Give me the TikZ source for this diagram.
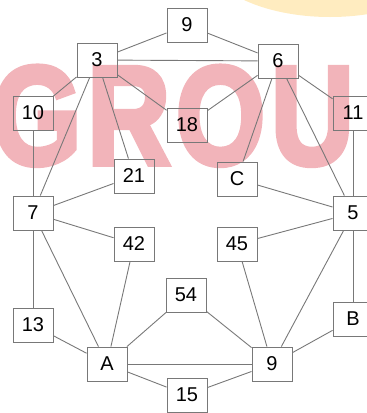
\documentclass[tikz,border=0pt]{standalone}
\usepackage{fontspec}
\setmainfont{Liberation Sans}
\newfontfamily\wmfont[FakeBold=4]{Liberation Sans}
\usepackage{tikz}
\usetikzlibrary{positioning}

\definecolor{edgegray}{RGB}{120,120,120}
\definecolor{wmark}{RGB}{242,180,186}
\definecolor{blob}{RGB}{255,236,192}

\begin{document}
\begin{tikzpicture}[
  x=1pt, y=-1pt,
  box/.style={draw=edgegray, line width=0.9pt, minimum width=40pt, minimum height=34pt, inner sep=0pt, font=\fontsize{20}{24}\selectfont},
  edge/.style={draw=edgegray, line width=0.9pt}
]
\clip (0,0) rectangle (367,413);

% background marks of the scan
\fill[blob] (330,-45) ellipse (125 and 62);
\node[anchor=base west, inner sep=0pt, text=wmark, font=\wmfont\bfseries\fontsize{140}{140}\selectfont] (wm) at (-8,164)
  {\scalebox{0.82}[1]{\addfontfeature{LetterSpace=5}GROU}};

% boxes
\node[box] (n9top) at (187,25) {9};
\node[box] (n3) at (97,60) {3};
\node[box] (n6) at (278,61) {6};
\node[box] (n10) at (33,113) {10};
\node[box] (n18) at (187,125) {18};
\node[box] (n11) at (353,113) {11};
\node[box] (n21) at (134,176) {21};
\node[box] (nC) at (237,179) {C};
\node[box] (n7) at (33,213) {7};
\node[box] (n5) at (353,213) {5};
\node[box] (n42) at (134,244) {42};
\node[box] (n45) at (237,244) {45};
\node[box] (n54) at (186,295) {54};
\node[box] (n13) at (33,325) {13};
\node[box] (nB) at (353,319) {B};
\node[box] (nA) at (107,364) {A};
\node[box] (n9bot) at (272,364) {9};
\node[box] (n15) at (187,395) {15};

% connections
\draw[edge] (n9top) -- (n3);
\draw[edge] (n9top) -- (n6);
\draw[edge] (n3) -- (n6);
\draw[edge] (n3) -- (n10);
\draw[edge] (n3) -- (n7);
\draw[edge] (n3) -- (n21);
\draw[edge] (n3) -- (n18);
\draw[edge] (n6) -- (n18);
\draw[edge] (n6) -- (n11);
\draw[edge] (n6) -- (nC);
\draw[edge] (n6) -- (n5);
\draw[edge] (n10) -- (n7);
\draw[edge] (n11) -- (n5);
\draw[edge] (n21) -- (n7);
\draw[edge] (n7) -- (n42);
\draw[edge] (n7) -- (n13);
\draw[edge] (n7) -- (nA);
\draw[edge] (n42) -- (nA);
\draw[edge] (nC) -- (n5);
\draw[edge] (n45) -- (n5);
\draw[edge] (n45) -- (n9bot);
\draw[edge] (n5) -- (n9bot);
\draw[edge] (n5) -- (nB);
\draw[edge] (nB) -- (n9bot);
\draw[edge] (n13) -- (nA);
\draw[edge] (nA) -- (n54);
\draw[edge] (n54) -- (n9bot);
\draw[edge] (nA) -- (n9bot);
\draw[edge] (nA) -- (n15);
\draw[edge] (n15) -- (n9bot);
\end{tikzpicture}
\end{document}
